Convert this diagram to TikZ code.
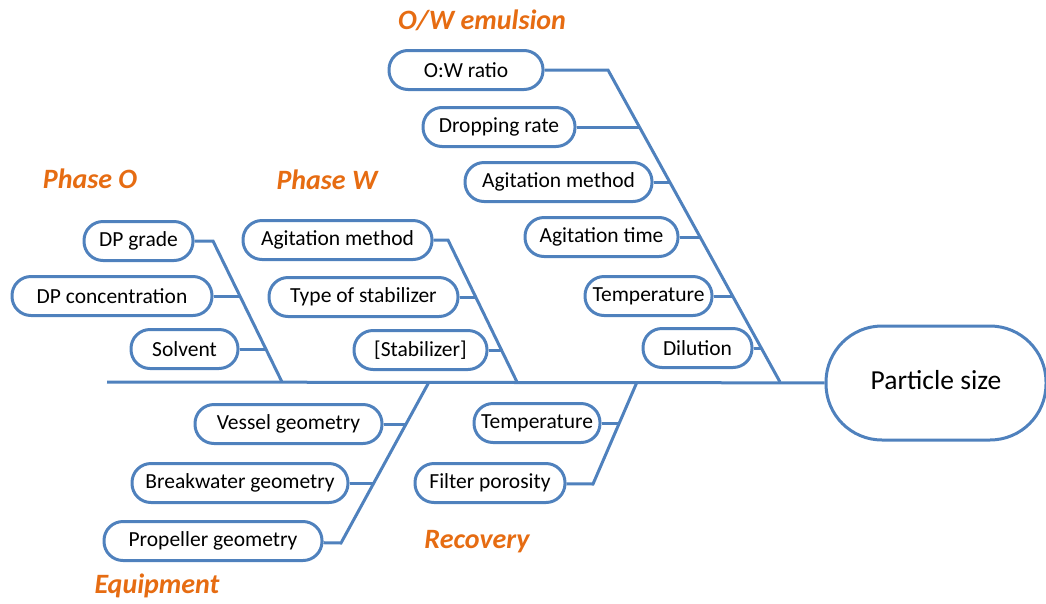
\documentclass[tikz,border=0pt]{standalone}
\usepackage{fontspec}
\setmainfont{Carlito}
\usetikzlibrary{positioning,calc}
\definecolor{boneblue}{RGB}{79,129,189}
\definecolor{grouporange}{RGB}{230,108,18}
\tikzset{
    cause/.style={draw=boneblue, line width=3pt, fill=white, rounded corners=19pt,
        minimum height=39pt, inner sep=0pt, font=\fontsize{21.5}{24}\selectfont},
    effect/.style={draw=boneblue, line width=3pt, fill=white, rounded corners=56pt,
        minimum width=220pt, minimum height=114pt, font=\fontsize{27.5}{30}\selectfont},
    bone/.style={draw=boneblue, line width=3pt},
    grouplabel/.style={text=grouporange, font=\fontsize{28}{30}\selectfont\bfseries\itshape}
}

\begin{document}
\begin{tikzpicture}[x=1pt, y=-1pt]
\useasboundingbox (0,0) rectangle (1046,603);

% head of the fish
\node[effect] (size) at (936,383) {\raisebox{6pt}{Particle size}};

% bone ends and joints
\coordinate (spine) at (107,382);
\coordinate (potop) at (213,241);  \coordinate (pobot) at (282,382);
\coordinate (po2) at (240,296);    \coordinate (po3) at (266,349);
\coordinate (pwtop) at (448,240);  \coordinate (pwbot) at (517,382);
\coordinate (pw2) at (476,297);    \coordinate (pw3) at (501,350);
\coordinate (owtop) at (608,70);   \coordinate (owbot) at (780,382);
\coordinate (ow2) at (639,127);    \coordinate (ow3) at (670,182);
\coordinate (ow4) at (700,237);    \coordinate (ow5) at (733,296);
\coordinate (ow6) at (761,348);
\coordinate (eqtop) at (429,382);  \coordinate (eqbot) at (341,543);
\coordinate (eq1) at (406,424);    \coordinate (eq2) at (374,483);
\coordinate (rctop) at (637,382);  \coordinate (rcbot) at (593,484);
\coordinate (rc1) at (619,423);

% group titles
\node[grouplabel] (phaseo) at (90,179) {Phase O};
\node[grouplabel] (phasew) at (327,180) {Phase W};
\node[grouplabel] (emulsion) at (482,20) {O/W emulsion};
\node[grouplabel] (equip) at (157,586) {Equipment};
\node[grouplabel] (recov) at (477,542) {Recovery};

% causes
\node[cause, minimum width=109pt] (dpgrade) at (138.5,241) {DP grade};
\node[cause, minimum width=200pt] (dpconc) at (112,296) {DP concentration};
\node[cause, minimum width=107pt] (solvent) at (184.5,349) {Solvent};

\node[cause, minimum width=189pt] (wagit) at (337.5,240) {Agitation method};
\node[cause, minimum width=189pt] (stabtype) at (363.5,297) {Type of stabilizer};
\node[cause, minimum width=133pt] (stabconc) at (420.5,350) {[Stabilizer]};

\node[cause, minimum width=154pt] (owratio) at (466,70) {O:W ratio};
\node[cause, minimum width=152pt] (droprate) at (499,127) {Dropping rate};
\node[cause, minimum width=187pt] (owagit) at (558.5,182) {Agitation method};
\node[cause, minimum width=153pt] (agtime) at (601.5,237) {Agitation time};
\node[cause, minimum width=127pt] (owtemp) at (648.5,296) {Temperature};
\node[cause, minimum width=109pt] (dilution) at (697.5,348) {Dilution};

\node[cause, minimum width=187pt] (vessel) at (288.5,424) {Vessel geometry};
\node[cause, minimum width=216pt] (breakw) at (240,483) {Breakwater geometry};
\node[cause, minimum width=218pt] (propel) at (213,541) {Propeller geometry};

\node[cause, minimum width=126pt] (rtemp) at (537,423) {Temperature};
\node[cause, minimum width=150pt] (filter) at (490,483) {Filter porosity};

% spine and bones
\draw[bone] (spine) -- (size);
\draw[bone] (dpgrade) -- (potop) -- (pobot);
\draw[bone] (dpconc) -- (po2);
\draw[bone] (solvent) -- (po3);
\draw[bone] (wagit) -- (pwtop) -- (pwbot);
\draw[bone] (stabtype) -- (pw2);
\draw[bone] (stabconc) -- (pw3);
\draw[bone] (owratio) -- (owtop) -- (owbot);
\draw[bone] (droprate) -- (ow2);
\draw[bone] (owagit) -- (ow3);
\draw[bone] (agtime) -- (ow4);
\draw[bone] (owtemp) -- (ow5);
\draw[bone] (dilution) -- (ow6);
\draw[bone] (eqtop) -- (eqbot) -- (propel);
\draw[bone] (vessel) -- (eq1);
\draw[bone] (breakw) -- (eq2);
\draw[bone] (rctop) -- (rcbot) -- (filter);
\draw[bone] (rtemp) -- (rc1);
\end{tikzpicture}
\end{document}
